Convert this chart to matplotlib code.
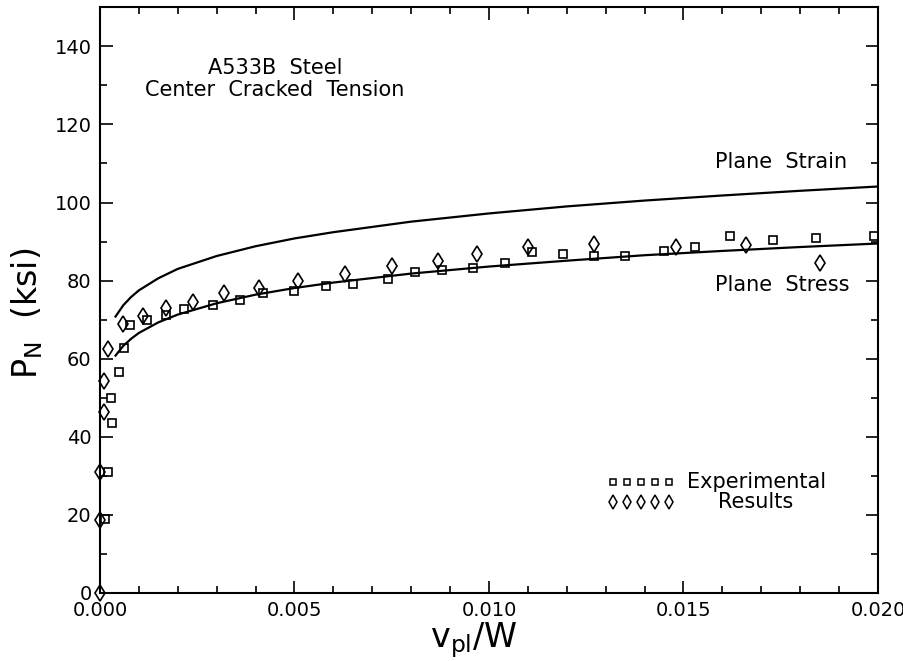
import numpy as np
import matplotlib.pyplot as plt
from matplotlib.ticker import MultipleLocator

# Kurver lest av figuren
x_kurve = [0.0004, 0.0006, 0.0008, 0.001, 0.0015, 0.002, 0.003, 0.004, 0.005,
           0.006, 0.008, 0.010, 0.012, 0.014, 0.016, 0.018, 0.020]
plane_strain = [70.8, 73.7, 75.8, 77.5, 80.6, 83.0, 86.3, 88.8, 90.8,
                92.4, 95.1, 97.2, 99.0, 100.5, 101.8, 103.0, 104.1]
plane_stress = [60.8, 63.3, 65.1, 66.6, 69.3, 71.3, 74.2, 76.4, 78.1,
                79.5, 81.8, 83.6, 85.1, 86.5, 87.6, 88.6, 89.5]

# Forsøksdata (kvadrater)
x_kv = [0.00013, 0.00021, 0.00031, 0.00028, 0.00049, 0.00062, 0.00077, 0.0012,
        0.0017, 0.00216, 0.0029, 0.0036, 0.0042, 0.0050, 0.0058, 0.0065, 0.0074,
        0.0081, 0.0088, 0.0096, 0.0104, 0.0111, 0.0119, 0.0127, 0.0135, 0.0145,
        0.0153, 0.0162, 0.0173, 0.0184, 0.0199]
y_kv = [19.0, 31.0, 43.6, 50.0, 56.7, 62.8, 68.7, 70.0,
        71.3, 72.6, 73.8, 75.1, 76.7, 77.4, 78.5, 79.2, 80.5,
        82.1, 82.6, 83.1, 84.4, 87.2, 86.7, 86.4, 86.4, 87.7,
        88.5, 91.3, 90.5, 91.0, 91.3]

# Forsøksdata (ruter)
x_ru = [0.0, 0.0, 0.0, 0.0001, 0.0001, 0.0002, 0.0006, 0.0011, 0.0017, 0.0024,
        0.0032, 0.0041, 0.0051, 0.0063, 0.0075, 0.0087, 0.0097, 0.0110, 0.0127,
        0.0148, 0.0166, 0.0185]
y_ru = [0.0, 18.7, 31.0, 46.4, 54.4, 62.6, 69.0, 71.0, 73.1, 74.6,
        76.7, 78.2, 80.0, 81.8, 83.8, 84.9, 86.7, 88.7, 89.5,
        88.7, 89.0, 84.6]

# Symboler i forklaringen
leg_x = [0.01319, 0.01355, 0.01391, 0.01427, 0.01463]

fig = plt.figure(figsize=(9.04, 6.61), dpi=100)
ax = fig.add_axes([0.1106, 0.1029, 0.8606, 0.8861])

ax.plot(x_kurve, plane_strain, color='black', lw=1.6)
ax.plot(x_kurve, plane_stress, color='black', lw=1.6)
ax.plot(x_kv, y_kv, ls='none', marker='s', ms=6, mfc='none', mec='black', mew=1.2, clip_on=False)
ax.plot(x_ru, y_ru, ls='none', marker='d', ms=8, mfc='none', mec='black', mew=1.2, clip_on=False)

ax.plot(leg_x, [28.5] * 5, ls='none', marker='s', ms=5, mfc='none', mec='black', mew=1.1)
ax.plot(leg_x, [23.2] * 5, ls='none', marker='d', ms=7, mfc='none', mec='black', mew=1.1)
ax.text(0.01509, 28.5, "Experimental", fontsize=15, va='center', ha='left')
ax.text(0.01589, 23.2, "Results", fontsize=15, va='center', ha='left')

ax.text(0.0045, 134.5, "A533B  Steel", fontsize=15, ha='center', va='center')
ax.text(0.0045, 128.8, "Center  Cracked  Tension", fontsize=15, ha='center', va='center')
ax.text(0.01581, 110.3, "Plane  Strain", fontsize=15, ha='left', va='center')
ax.text(0.01581, 79.0, "Plane  Stress", fontsize=15, ha='left', va='center')

ax.set_xlim(0, 0.020)
ax.set_ylim(0, 150)
ax.xaxis.set_minor_locator(MultipleLocator(0.001))
ax.yaxis.set_major_locator(MultipleLocator(20))
ax.yaxis.set_minor_locator(MultipleLocator(10))
ax.set_xticks([0, 0.005, 0.010, 0.015, 0.020])
ax.set_xticklabels(["0.000", "0.005", "0.010", "0.015", "0.020"])
ax.tick_params(which='both', direction='in', top=True, right=True, labelsize=14, width=1.2)
ax.tick_params(which='major', length=9, pad=6)
ax.tick_params(which='minor', length=5)
for s in ax.spines.values():
    s.set_linewidth(1.5)

ax.set_xlabel(r"v$_\mathregular{pl}$/W", fontsize=24)
ax.xaxis.label.set_va('center')
ax.xaxis.set_label_coords(0.48, -0.080, transform=ax.transAxes)
ax.set_ylabel(r"P$_\mathregular{N}$  (ksi)", fontsize=24)
ax.yaxis.label.set_va('center')
ax.yaxis.set_label_coords(-0.094, 0.477, transform=ax.transAxes)

plt.savefig("out.png", dpi=100)
